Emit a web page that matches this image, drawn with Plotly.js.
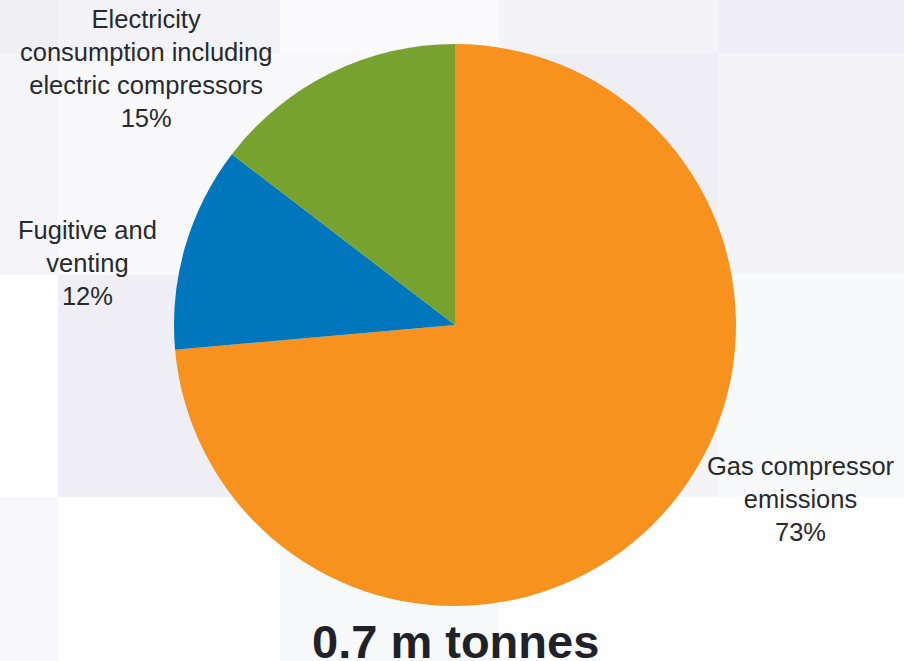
<!DOCTYPE html>
<html>
<head>
<meta charset="utf-8">
<script src="https://cdn.plot.ly/plotly-3.0.1.min.js"></script>
<style>
  html, body { margin: 0; padding: 0; background: #ffffff; }
  #chart { width: 904px; height: 661px; }
</style>
</head>
<body>
<div id="chart"></div>
<script>
// ---- data ----
const categories = ["Gas compressor<br>emissions", "Fugitive and<br>venting", "Electricity<br>consumption including<br>electric compressors"];
const shares = [73.6, 11.8, 14.6];          // slice sizes (%)
const shareLabels = ["73%", "12%", "15%"];  // printed labels
const sliceColors = ["#f7921e", "#0077bd", "#78a22f"];
const totalLabel = "0.7 m tonnes";

// ---- layout helpers (positions / styles) ----
const W = 904, H = 661;
const labelPos = [
  {x: 801 / W, y: 1 - 499 / H},
  {x: 87 / W, y: 1 - 263 / H},
  {x: 146 / W, y: 1 - 68 / H}
];

// faint checkered backdrop
const colEdges = [0, 58, 280, 499, 718, 904];
const rowEdges = [0, 53, 275, 497, 661];
const tileColors = [
  ["#efeff4", "#f3f3f7", "#fafafc", "#f3f3f8", "#efeef4"],
  ["#f5f5f9", "#f9f9fb", "#f8f8fa", "#efeef4", "#f3f3f8"],
  ["#fefefe", "#efeef4", "#f8f8fa", "#f3f3f8", "#f8f9fb"],
  ["#f8f8fa", "#fefefe", "#f8f9fb", "#fefefe", "#fefefe"]
];
const shapes = [];
for (let r = 0; r < rowEdges.length - 1; r++) {
  for (let c = 0; c < colEdges.length - 1; c++) {
    shapes.push({
      type: "rect", xref: "paper", yref: "paper", layer: "below",
      x0: colEdges[c] / W, x1: colEdges[c + 1] / W,
      y0: 1 - rowEdges[r + 1] / H, y1: 1 - rowEdges[r] / H,
      fillcolor: tileColors[r][c], line: {width: 0}
    });
  }
}

const textColor = "#262a30";
const annotations = categories.map((cat, i) => ({
  xref: "paper", yref: "paper",
  x: labelPos[i].x, y: labelPos[i].y,
  xanchor: "center", yanchor: "middle",
  text: cat + "<br>" + shareLabels[i],
  showarrow: false, align: "center",
  font: {family: "Liberation Sans, Arial, sans-serif", size: 25.5, color: textColor}
}));
annotations.push({
  xref: "paper", yref: "paper", x: 455 / W, y: 1 - 641 / H,
  xanchor: "center", yanchor: "middle",
  text: "<b>" + totalLabel + "</b>", showarrow: false,
  font: {family: "Liberation Sans, Arial, sans-serif", size: 47, color: "#1f2329"}
});

const cx = 455, cy = 325, R = 281;
const trace = {
  type: "pie",
  labels: categories,
  values: shares,
  sort: false,
  direction: "clockwise",
  rotation: 0,
  textinfo: "none",
  hoverinfo: "label+percent",
  marker: {colors: sliceColors, line: {width: 0}},
  domain: {x: [(cx - R) / W, (cx + R) / W], y: [1 - (cy + R) / H, 1 - (cy - R) / H]},
  showlegend: false
};

const layout = {
  width: W, height: H,
  margin: {l: 0, r: 0, t: 0, b: 0},
  paper_bgcolor: "#ffffff",
  plot_bgcolor: "rgba(0,0,0,0)",
  showlegend: false,
  shapes: shapes,
  annotations: annotations
};

Plotly.newPlot("chart", [trace], layout, {displayModeBar: false, staticPlot: true});
</script>
</body>
</html>
